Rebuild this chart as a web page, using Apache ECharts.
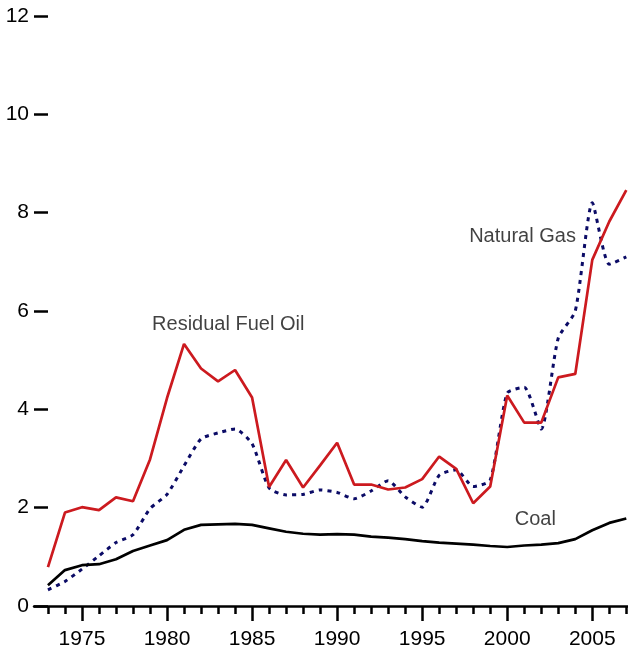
<!DOCTYPE html>
<html>
<head>
<meta charset="utf-8">
<script src="https://cdn.jsdelivr.net/npm/echarts@6/dist/echarts.min.js"></script>
<style>html,body{margin:0;padding:0;background:#fff}#c{width:628px;height:650px}</style>
</head>
<body>
<div id="c"></div>
<script>
var years = [1973,1974,1975,1976,1977,1978,1979,1980,1981,1982,1983,1984,1985,1986,1987,1988,1989,1990,1991,1992,1993,1994,1995,1996,1997,1998,1999,2000,2001,2002,2003,2004,2005,2006,2007];
var residualFuelOil = [0.79,1.90,2.01,1.95,2.21,2.13,2.98,4.23,5.33,4.83,4.57,4.80,4.24,2.42,2.97,2.41,2.86,3.32,2.47,2.47,2.37,2.41,2.58,3.04,2.79,2.09,2.43,4.28,3.73,3.73,4.65,4.72,7.04,7.82,8.46];
var naturalGas = [0.33,0.50,0.75,1.02,1.29,1.45,1.98,2.27,2.85,3.40,3.52,3.60,3.30,2.40,2.26,2.27,2.36,2.31,2.18,2.34,2.55,2.22,2.01,2.66,2.77,2.43,2.56,4.33,4.45,3.60,5.45,6.00,8.20,6.95,7.10];
var coal = [0.42,0.73,0.83,0.85,0.95,1.12,1.23,1.34,1.55,1.65,1.66,1.67,1.65,1.58,1.51,1.47,1.45,1.46,1.45,1.41,1.39,1.36,1.32,1.29,1.27,1.25,1.22,1.20,1.23,1.25,1.28,1.36,1.54,1.69,1.78];
var xLabelYears = [1975,1980,1985,1990,1995,2000,2005];
var annotationTexts = ["Residual Fuel Oil","Natural Gas","Coal"];
var annotationYears = [1983.6,2000.9,2001.65];
var annotationValues = [5.72,7.51,1.75];

function pairs(vals){ return years.map(function(y,i){ return [y, vals[i]]; }); }
var FONT = '"Liberation Sans", Arial, sans-serif';

var chart = echarts.init(document.getElementById('c'), null, {renderer:'canvas'});
chart.setOption({
  animation: false,
  backgroundColor: '#fff',
  grid: {left: 34, right: 0, top: 16, bottom: 44, containLabel: false},
  xAxis: [{
    type: 'value', min: 1972.18, max: 2007.1,
    axisLine: {show: true, lineStyle: {color: '#000', width: 2.5}},
    axisTick: {show: true, length: 8, lineStyle: {color: '#000', width: 2.5}, customValues: years},
    axisLabel: {show: true, customValues: xLabelYears, margin: 23, color: '#000', fontSize: 21, fontFamily: FONT,
      formatter: function(v){ return String(v); }},
    splitLine: {show: false}
  },{
    type: 'value', min: 1972.18, max: 2007.1, position: 'bottom',
    axisLine: {show: false},
    axisTick: {show: true, length: 15, lineStyle: {color: '#000', width: 2.5}, customValues: xLabelYears},
    axisLabel: {show: false},
    splitLine: {show: false}
  }],
  yAxis: {
    type: 'value', min: 0, max: 12, interval: 2,
    axisLine: {show: false},
    axisTick: {show: true, inside: true, length: 14, lineStyle: {color: '#000', width: 2.5}},
    axisLabel: {margin: 5, color: '#000', fontSize: 21, fontFamily: FONT},
    splitLine: {show: false}
  },
  series: [
    {name: 'Natural Gas', type: 'line', data: pairs(naturalGas), showSymbol: false, smooth: 0.2,
     lineStyle: {color: '#0b0b66', width: 3, type: [4,5]}, z: 2},
    {name: 'Coal', type: 'line', data: pairs(coal), showSymbol: false,
     lineStyle: {color: '#000', width: 2.7}, z: 3},
    {name: 'Residual Fuel Oil', type: 'line', data: pairs(residualFuelOil), showSymbol: false,
     lineStyle: {color: '#cc1a1f', width: 2.7}, z: 4},
    {name: 'labels', type: 'scatter', symbolSize: 0, silent: true,
     data: annotationTexts.map(function(t,i){ return {name: t, value: [annotationYears[i], annotationValues[i]]}; }),
     label: {show: true, position: 'inside', formatter: '{b}', color: '#111', fontSize: 20, fontFamily: FONT}, z: 5}
  ]
});
</script>
</body>
</html>
